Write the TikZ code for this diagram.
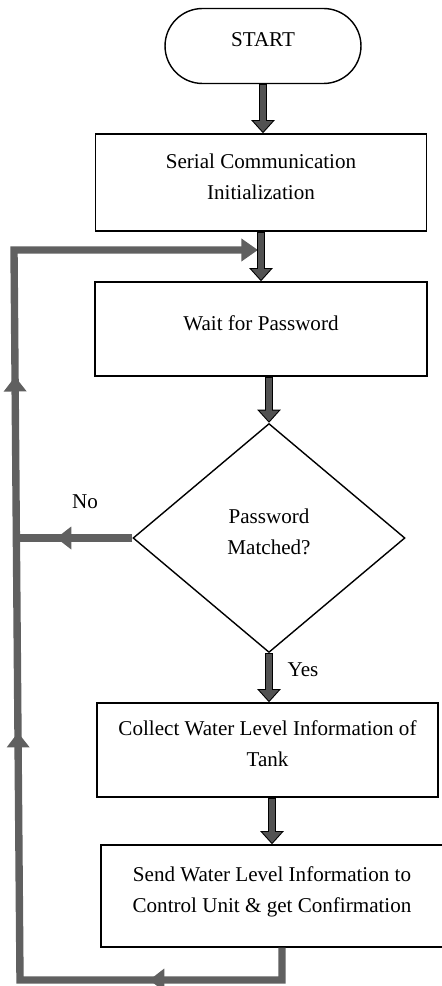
\documentclass[tikz,border=0pt]{standalone}
\usepackage{fontspec}
\setmainfont{Liberation Serif}
\usetikzlibrary{shapes.geometric,arrows.meta,decorations.markings}

\definecolor{flowgray}{RGB}{82,82,82}
\definecolor{loopgray}{RGB}{96,96,96}

\begin{document}
\begin{tikzpicture}[
					x=0.02cm, y=-0.02cm,
					font=\fontsize{12}{17.6}\selectfont,
					box/.style={rectangle,draw,line width=0.8pt,align=center,inner sep=0pt,text depth=0.24cm},
					flow/.style={draw=black,line width=4.6pt,-{Triangle[width=13pt,length=7.5pt]},
						postaction={draw=flowgray,line width=3.4pt,shorten >=0.9pt,shorten <=0.6pt,-{Triangle[width=10.4pt,length=6pt]}}},
					back/.style={draw=loopgray,line width=4.2pt},
					tipat/.style={postaction={decorate,decoration={markings,mark=at position #1 with {\arrow{Triangle[width=12.5pt,length=8.5pt]}}}}},
					]
					\useasboundingbox (0,0) rectangle (441,986);
					\node [box,rounded corners=0.75cm,minimum width=3.92cm,minimum height=1.5cm] (start) at (263,46) {START};
					\node [box,minimum width=6.62cm,minimum height=1.94cm] (serial) at (261,182.5) {Serial Communication\\Initialization};
					\node [box,minimum width=6.64cm,minimum height=1.88cm] (wait) at (261,329) {Wait for Password};
					\node [diamond,draw,line width=0.8pt,align=center,inner sep=0pt,text depth=0.24cm,minimum width=5.44cm,minimum height=4.58cm] (match) at (269,538) {Password\\Matched?};
					\node [box,minimum width=6.82cm,minimum height=1.88cm] (collect) at (267.5,750) {Collect Water Level Information of\\Tank};
					\node [box,minimum width=6.84cm,minimum height=2.04cm] (send) at (272,896) {Send Water Level Information to\\Control Unit \& get Confirmation};
					\node (no) at (85,502) {No};
					\node (yes) at (303,670) {Yes};
					% way back to the password prompt
					\coordinate (lowleft) at (20,980);
					\coordinate (upleft) at (14,250);
					\coordinate (rejoin) at (258,250);
					\coordinate (noend) at (17,538);
					\draw[back,-{Triangle[width=12.5pt,length=9.5pt]},tipat=3.3cm,tipat=10.84cm,tipat=17.96cm] ([xshift=0.2cm]send.south) |- (lowleft) -- (upleft) -- (rejoin);
					\draw[back,tipat=1.52cm] (match.west) -- (noend);
					\draw[flow] (start.south) -- (start.south |- serial.north);
					\draw[flow] (serial.south) -- (wait.north);
					\draw[flow] (match.north |- wait.south) -- (match.north);
					\draw[flow] (match.south) -- (match.south |- collect.north);
					\draw[flow] (send.north |- collect.south) -- (send.north);
				\end{tikzpicture}
\end{document}
